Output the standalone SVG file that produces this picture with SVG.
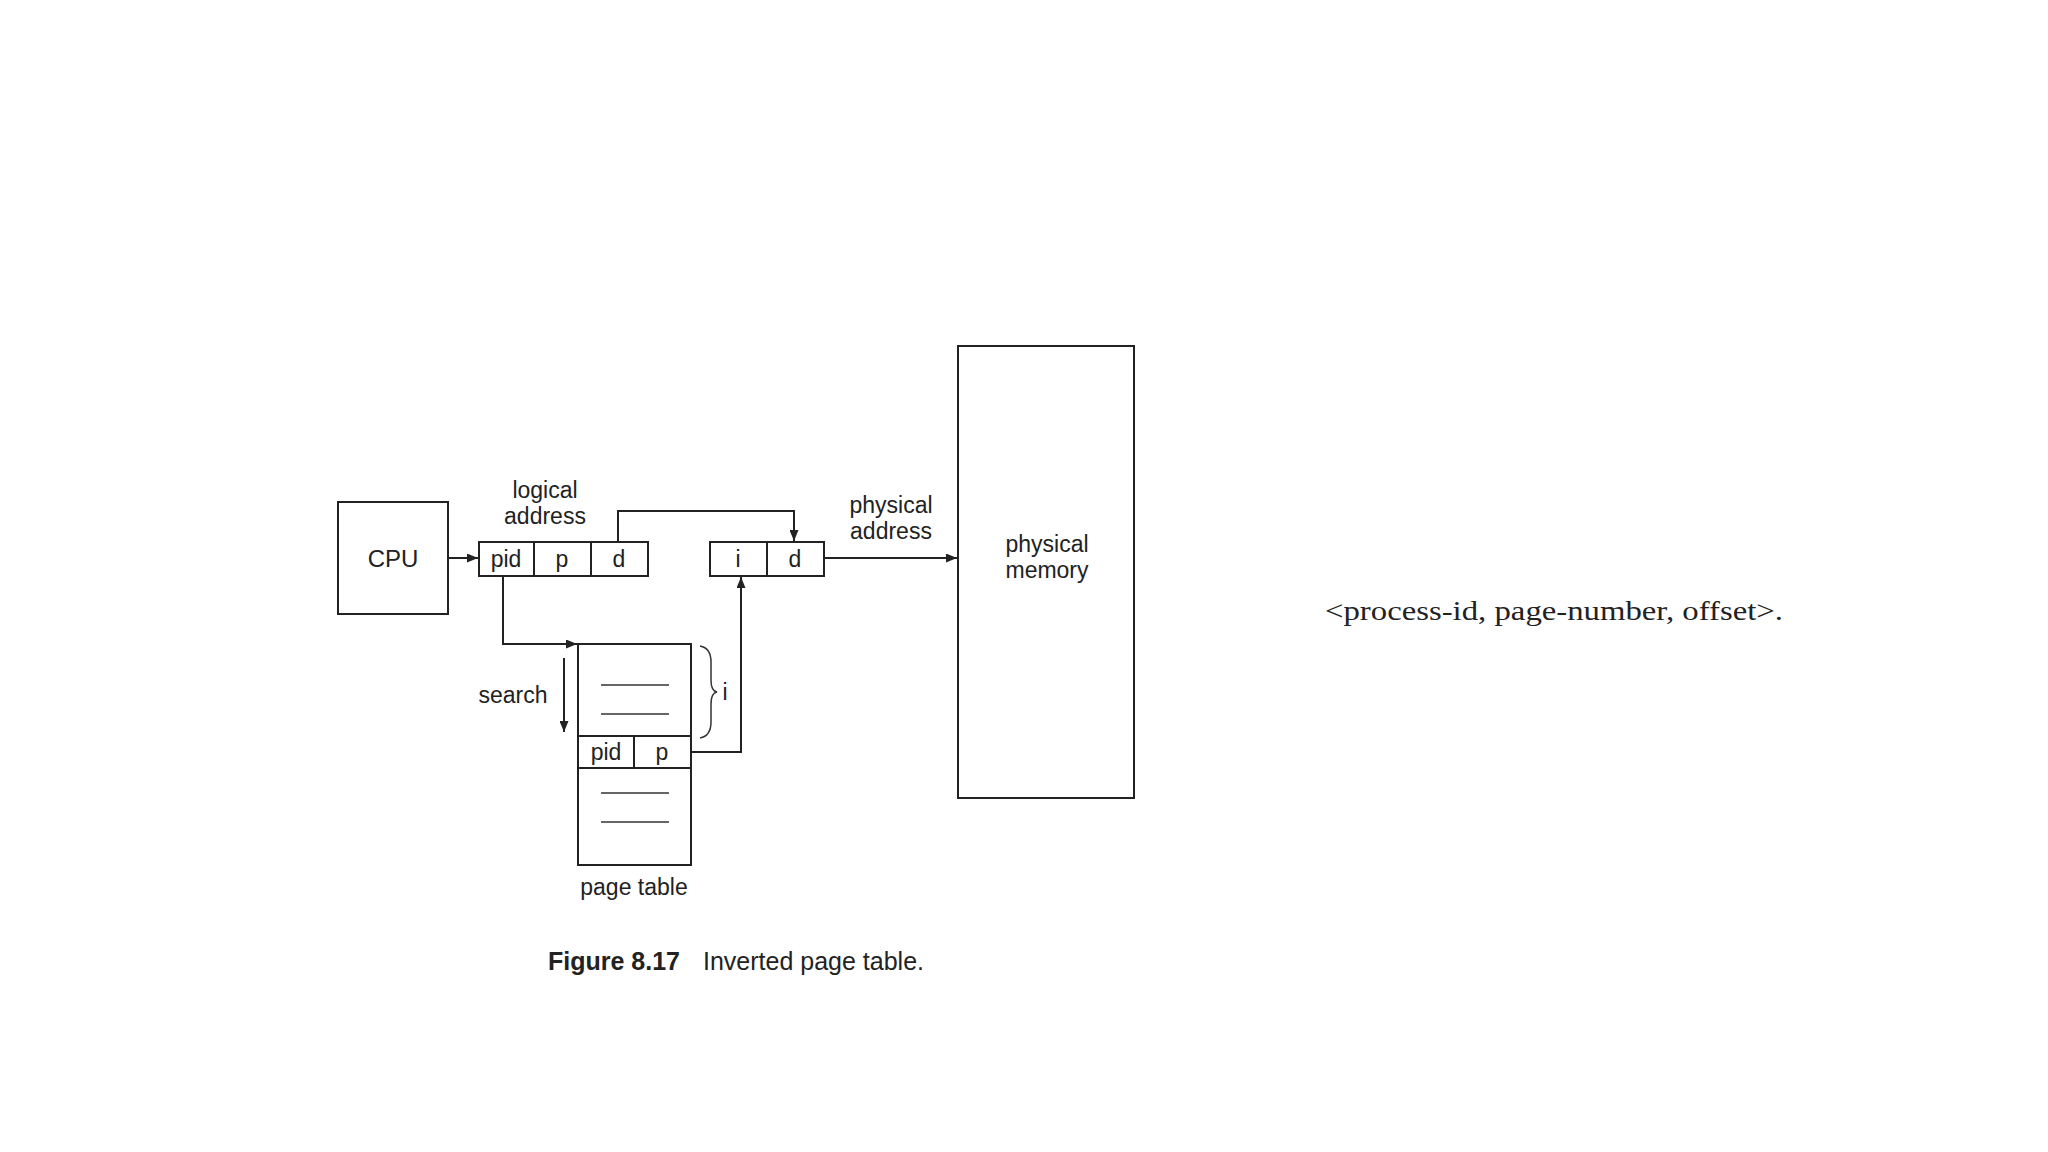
<svg xmlns="http://www.w3.org/2000/svg" width="2048" height="1152" viewBox="0 0 2048 1152">
<style>
.box{fill:none;stroke:#222;stroke-width:2}
.ln{fill:none;stroke:#222;stroke-width:2}
.thin{fill:none;stroke:#333;stroke-width:1.5}
.t{font-family:"Liberation Sans",Arial,sans-serif;font-size:23px;fill:#222;text-anchor:middle}
.cap{font-family:"Liberation Sans",Arial,sans-serif;font-size:25px;fill:#222}
.ser{font-family:"Liberation Serif","Times New Roman",serif;font-size:28px;fill:#222}
</style>
<defs>
<marker id="ah" viewBox="0 0 11 9" refX="11" refY="4.5" markerWidth="11" markerHeight="9" markerUnits="userSpaceOnUse" orient="auto">
<path d="M0,0 L11,4.5 L0,9 z" fill="#222"/>
</marker>
</defs>
<rect width="2048" height="1152" fill="#fff"/>

<g id="cpu">
<rect class="box" x="338" y="502" width="110" height="112"/>
<text class="t" x="393" y="567" style="font-size:24px">CPU</text>
</g>

<g id="logical-address">
<rect class="box" x="479" y="542" width="169" height="34"/>
<line class="ln" x1="534" y1="542" x2="534" y2="576"/>
<line class="ln" x1="591" y1="542" x2="591" y2="576"/>
<text class="t" x="506" y="567">pid</text>
<text class="t" x="562" y="567">p</text>
<text class="t" x="619" y="567">d</text>
<text class="t" x="545" y="498">logical</text>
<text class="t" x="545" y="524">address</text>
</g>

<g id="physical-address">
<rect class="box" x="710" y="542" width="114" height="34"/>
<line class="ln" x1="767" y1="542" x2="767" y2="576"/>
<text class="t" x="738" y="567">i</text>
<text class="t" x="795" y="567">d</text>
<text class="t" x="891" y="513">physical</text>
<text class="t" x="891" y="539">address</text>
</g>

<g id="page-table">
<rect class="box" x="578" y="644" width="113" height="221"/>
<line class="ln" x1="578" y1="736" x2="691" y2="736"/>
<line class="ln" x1="578" y1="768" x2="691" y2="768"/>
<line class="ln" x1="634" y1="736" x2="634" y2="768"/>
<line class="thin" x1="601" y1="685" x2="669" y2="685"/>
<line class="thin" x1="601" y1="714" x2="669" y2="714"/>
<line class="thin" x1="601" y1="793" x2="669" y2="793"/>
<line class="thin" x1="601" y1="822" x2="669" y2="822"/>
<text class="t" x="606" y="760">pid</text>
<text class="t" x="662" y="760">p</text>
<text class="t" x="634" y="895">page table</text>
<path class="thin" d="M700,646 Q711,648 711,662 V680 Q711,691 717,692 Q711,693 711,704 V722 Q711,736 700,738"/>
<text class="t" x="725" y="700">i</text>
<text class="t" x="513" y="703">search</text>
</g>

<g id="physical-memory">
<rect class="box" x="958" y="346" width="176" height="452"/>
<text class="t" x="1047" y="552">physical</text>
<text class="t" x="1047" y="578">memory</text>
</g>

<g id="connectors">
<line class="ln" x1="448" y1="558" x2="478" y2="558" marker-end="url(#ah)"/>
<path class="ln" d="M618,542 V511 H794 V541" marker-end="url(#ah)"/>
<path class="ln" d="M503,576 V644 H577" marker-end="url(#ah)"/>
<path class="ln" d="M691,752 H741 V577" marker-end="url(#ah)"/>
<line class="ln" x1="564" y1="658" x2="564" y2="732" marker-end="url(#ah)"/>
<line class="ln" x1="824" y1="558" x2="957" y2="558" marker-end="url(#ah)"/>
</g>

<g id="caption">
<text class="cap" x="548" y="970"><tspan font-weight="bold">Figure 8.17</tspan><tspan x="703">Inverted page table.</tspan></text>
</g>

<text class="ser" x="1325" y="620" textLength="458" lengthAdjust="spacingAndGlyphs">&lt;process-id, page-number, offset&gt;.</text>
</svg>
